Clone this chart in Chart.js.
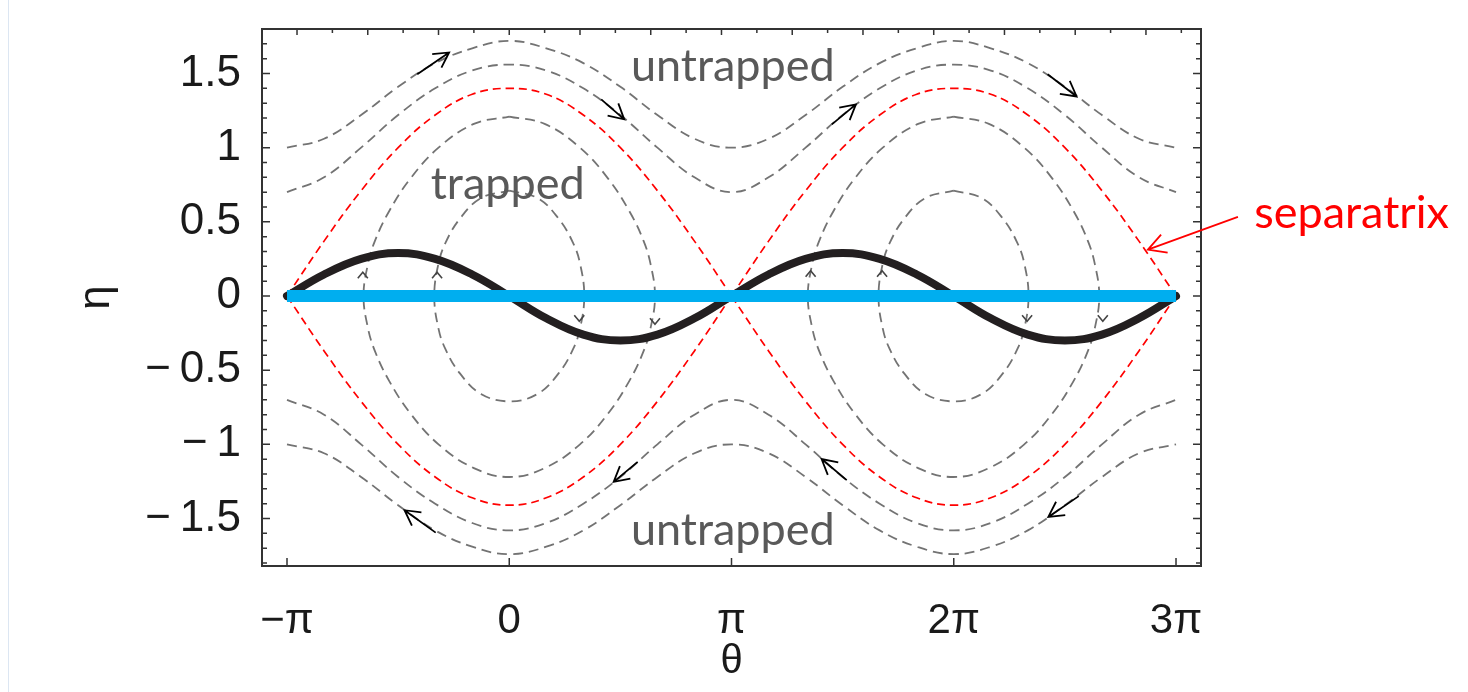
<!DOCTYPE html>
<html>
<head>
<meta charset="utf-8">
<script src="https://cdn.jsdelivr.net/npm/chart.js@4/dist/chart.umd.min.js"></script>
<style>
  html, body { margin: 0; padding: 0; background: #ffffff; }
  #wrap { position: relative; width: 1468px; height: 692px; }
  #edge { position: absolute; left: 8px; top: 0; width: 1px; height: 692px; background: #dce6f2; }
</style>
</head>
<body>
<div id="wrap">
  <div id="edge"></div>
  <canvas id="phase-chart" width="1468" height="692"></canvas>
</div>
<script>
// theta grid (multiples of pi/6 from -pi to 3pi)
const thetaGrid = [-6,-5,-4,-3,-2,-1,0,1,2,3,4,5,6,7,8,9,10,11,12,13,14,15,16,17,18].map(k => k * Math.PI / 6);

// untrapped orbits
const untrappedTopOuter = [1.00,1.06,1.22,1.41,1.57,1.67,1.72,1.67,1.57,1.41,1.22,1.06,1.00,1.06,1.22,1.41,1.57,1.67,1.72,1.67,1.57,1.41,1.22,1.06,1.00];
const untrappedTopInner = [0.70,0.80,1.00,1.22,1.40,1.52,1.56,1.52,1.40,1.22,1.00,0.80,0.70,0.80,1.00,1.22,1.40,1.52,1.56,1.52,1.40,1.22,1.00,0.80,0.70];
const untrappedBotInner = [-0.70,-0.80,-1.00,-1.22,-1.40,-1.53,-1.58,-1.53,-1.40,-1.22,-1.00,-0.80,-0.70,-0.80,-1.00,-1.22,-1.40,-1.53,-1.58,-1.53,-1.40,-1.22,-1.00,-0.80,-0.70];
const untrappedBotOuter = [-1.00,-1.06,-1.22,-1.41,-1.58,-1.69,-1.74,-1.69,-1.58,-1.41,-1.22,-1.06,-1.00,-1.06,-1.22,-1.41,-1.58,-1.69,-1.74,-1.69,-1.58,-1.41,-1.22,-1.06,-1.00];

// separatrix
const separatrixTop = [0,0.37,0.71,1.00,1.22,1.36,1.40,1.36,1.22,1.00,0.71,0.37,0,0.37,0.71,1.00,1.22,1.36,1.40,1.36,1.22,1.00,0.71,0.37,0];
const separatrixBot = [0,-0.37,-0.71,-1.00,-1.22,-1.36,-1.41,-1.36,-1.22,-1.00,-0.71,-0.37,0,-0.37,-0.71,-1.00,-1.22,-1.36,-1.41,-1.36,-1.22,-1.00,-0.71,-0.37,0];

// thick black wave
const blackWave = [0,0.145,0.25,0.29,0.25,0.145,0,-0.15,-0.26,-0.30,-0.26,-0.15,0,0.145,0.25,0.29,0.25,0.145,0,-0.15,-0.26,-0.30,-0.26,-0.15,0];

// blue line
const blueTheta = [-Math.PI, 3 * Math.PI];
const blueEta = [0, 0];

// trapped orbits (closed loops, start at top)
const trappedOuterThetaA = [0,0.5,1.0,1.4,1.7,1.9,2.0,2.06,2.0,1.9,1.7,1.4,1.0,0.5,0,-0.5,-1.0,-1.4,-1.7,-1.9,-2.0,-2.06,-2.0,-1.9,-1.7,-1.4,-1.0,-0.5,0];
const trappedOuterThetaB = [6.28,6.78,7.28,7.68,7.98,8.18,8.28,8.34,8.28,8.18,7.98,7.68,7.28,6.78,6.28,5.78,5.28,4.88,4.58,4.38,4.28,4.22,4.28,4.38,4.58,4.88,5.28,5.78,6.28];
const trappedOuterEta = [1.21,1.16,1.00,0.79,0.57,0.37,0.21,0,-0.21,-0.37,-0.57,-0.79,-1.00,-1.16,-1.22,-1.16,-1.00,-0.79,-0.57,-0.37,-0.21,0,0.21,0.37,0.57,0.79,1.00,1.16,1.21];
const trappedInnerThetaA = [0,0.4,0.7,0.9,1.0,1.06,1.0,0.9,0.7,0.4,0,-0.4,-0.7,-0.9,-1.0,-1.06,-1.0,-0.9,-0.7,-0.4,0];
const trappedInnerThetaB = [6.28,6.68,6.98,7.18,7.28,7.34,7.28,7.18,6.98,6.68,6.28,5.88,5.58,5.38,5.28,5.22,5.28,5.38,5.58,5.88,6.28];
const trappedInnerEta = [0.71,0.66,0.52,0.36,0.22,0,-0.22,-0.36,-0.52,-0.66,-0.71,-0.66,-0.52,-0.36,-0.22,0,0.22,0.36,0.52,0.66,0.71];

// axis ticks
const xTickValues = [-Math.PI, 0, Math.PI, 2 * Math.PI, 3 * Math.PI];
const xTickLabels = ['\u2212\u03c0', '0', '\u03c0', '2\u03c0', '3\u03c0'];
const yTickValues = [-1.5, -1, -0.5, 0, 0.5, 1, 1.5];
const yTickLabels = ['\u2212\u20091.5', '\u2212\u20091', '\u2212\u20090.5', '0', '0.5', '1', '1.5'];

// flow arrows [tailTheta, tailEta, headTheta, headEta]
const flowArrows = [
    [-1.30, 1.495, -0.85, 1.642],
    [1.30, 1.326, 1.625, 1.191],
    [4.56, 1.157, 4.90, 1.292],
    [7.61, 1.495, 8.02, 1.345],
    [-1.04, -1.595, -1.48, -1.444],
    [1.815, -1.118, 1.476, -1.253],
    [4.77, -1.241, 4.415, -1.099],
    [8.05, -1.349, 7.62, -1.489]
];
// small chevrons on trapped orbits [theta, eta, direction]
const trappedMarks = [
    [-2.07, 0.16, 1], [-1.02, 0.16, 1], [4.26, 0.17, 1], [5.27, 0.17, 1],
    [0.99, -0.17, -1], [2.06, -0.19, -1], [7.32, -0.17, -1], [8.39, -0.17, -1]
];
// text labels [text, theta, eta, colour]
const notes = [
    ['untrapped', 1.72, 1.448, '#595959'],
    ['trapped', -1.11, 0.651, '#595959'],
    ['untrapped', 1.72, -1.68, '#595959'],
    ['separatrix', 10.53, 0.461, '#ff0000']
];
const separatrixPointer = [10.30, 0.534, 9.027, 0.313];

function pts(xs, ys) {
    return xs.map((x, i) => ({ x: x, y: ys[i] }));
}

const grayDash = { borderColor: 'rgba(90,90,90,0.85)', borderWidth: 1.8, borderDash: [10, 6], tension: 0.4, order: 5 };
const redSep = { borderColor: '#ff0000', borderWidth: 1.7, borderDash: [8, 5], tension: 0.4, order: 3 };

function line(data, style) {
    return Object.assign({ data: data, showLine: true, pointRadius: 0, fill: false }, style);
}

const datasets = [
    line(pts(blueTheta, blueEta), { borderColor: '#00aeef', borderWidth: 12, order: 1, borderCapStyle: 'butt' }),
    line(pts(thetaGrid, blackWave), { borderColor: '#231f20', borderWidth: 8, tension: 0.4, order: 2, borderCapStyle: 'round' }),
    line(pts(thetaGrid.slice(0, 13), separatrixTop.slice(0, 13)), redSep),
    line(pts(thetaGrid.slice(12), separatrixTop.slice(12)), redSep),
    line(pts(thetaGrid.slice(0, 13), separatrixBot.slice(0, 13)), redSep),
    line(pts(thetaGrid.slice(12), separatrixBot.slice(12)), redSep),
    line(pts(thetaGrid, untrappedTopOuter), grayDash),
    line(pts(thetaGrid, untrappedTopInner), grayDash),
    line(pts(thetaGrid, untrappedBotInner), grayDash),
    line(pts(thetaGrid, untrappedBotOuter), grayDash),
    line(pts(trappedOuterThetaA, trappedOuterEta), grayDash),
    line(pts(trappedOuterThetaB, trappedOuterEta), grayDash),
    line(pts(trappedInnerThetaA, trappedInnerEta), grayDash),
    line(pts(trappedInnerThetaB, trappedInnerEta), grayDash)
];

function drawArrow(ctx, x1, y1, x2, y2, head, color, width) {
    const a = Math.atan2(y2 - y1, x2 - x1);
    ctx.save();
    ctx.strokeStyle = color;
    ctx.lineWidth = width;
    ctx.setLineDash([]);
    ctx.beginPath();
    ctx.moveTo(x1, y1);
    ctx.lineTo(x2, y2);
    ctx.moveTo(x2 - head * Math.cos(a - 0.5), y2 - head * Math.sin(a - 0.5));
    ctx.lineTo(x2, y2);
    ctx.lineTo(x2 - head * Math.cos(a + 0.5), y2 - head * Math.sin(a + 0.5));
    ctx.stroke();
    ctx.restore();
}

// frame, inner ticks, arrows and notes
const decor = {
    id: 'phaseDecor',
    afterDatasetsDraw(chart) {
        const { ctx, chartArea: a, scales: { x, y } } = chart;
        ctx.save();
        ctx.strokeStyle = '#333333';
        ctx.lineWidth = 1.5;
        ctx.setLineDash([]);
        ctx.beginPath();
        // left / right ticks every 0.1
        for (let i = -18; i <= 18; i++) {
            const py = y.getPixelForValue(i / 10);
            const len = i % 5 === 0 ? 8 : 5;
            ctx.moveTo(a.left, py); ctx.lineTo(a.left + len, py);
            ctx.moveTo(a.right, py); ctx.lineTo(a.right - len, py);
        }
        // top ticks every 0.5 rad
        for (let i = -7; i <= 19; i++) {
            const px = x.getPixelForValue(i / 2);
            if (px < a.left || px > a.right) continue;
            const len = i % 2 === 0 ? 6 : 4;
            ctx.moveTo(px, a.top); ctx.lineTo(px, a.top + len);
        }
        // bottom ticks at multiples of pi
        xTickValues.forEach(v => {
            const px = x.getPixelForValue(v);
            ctx.moveTo(px, a.bottom); ctx.lineTo(px, a.bottom - 8);
        });
        ctx.stroke();
        ctx.lineWidth = 2;
        ctx.strokeRect(a.left, a.top, a.right - a.left, a.bottom - a.top);

        flowArrows.forEach(f => {
            drawArrow(ctx, x.getPixelForValue(f[0]), y.getPixelForValue(f[1]),
                x.getPixelForValue(f[2]), y.getPixelForValue(f[3]), 17, '#000000', 1.8);
        });

        // chevrons on trapped orbits
        ctx.strokeStyle = '#444444';
        ctx.lineWidth = 1.6;
        trappedMarks.forEach(m => {
            const px = x.getPixelForValue(m[0]);
            const py = y.getPixelForValue(m[1]);
            const d = m[2];
            ctx.beginPath();
            ctx.moveTo(px - 5, py + 6 * d);
            ctx.lineTo(px, py);
            ctx.lineTo(px + 5, py + 6 * d);
            ctx.stroke();
        });

        const p = separatrixPointer;
        drawArrow(ctx, x.getPixelForValue(p[0]), y.getPixelForValue(p[1]),
            x.getPixelForValue(p[2]), y.getPixelForValue(p[3]), 20, '#ff0000', 1.8);

        ctx.font = '45px Lato';
        ctx.textAlign = 'left';
        ctx.textBaseline = 'alphabetic';
        notes.forEach(n => {
            ctx.fillStyle = n[3];
            ctx.fillText(n[0], x.getPixelForValue(n[1]), y.getPixelForValue(n[2]));
        });
        ctx.restore();
    }
};

new Chart(document.getElementById('phase-chart'), {
    type: 'scatter',
    data: { datasets: datasets },
    options: {
        responsive: false,
        animation: false,
        layout: { padding: { top: 29, right: 267, left: 0, bottom: 0 } },
        plugins: { legend: { display: false }, tooltip: { enabled: false } },
        scales: {
            x: {
                type: 'linear',
                min: -3.495,
                max: 9.778,
                grid: { display: false, drawTicks: false },
                border: { display: false },
                afterBuildTicks: s => { s.ticks = xTickValues.map(v => ({ value: v })); },
                afterFit: s => { s.height = 126; s.paddingLeft = 0; s.paddingRight = 0; },
                ticks: {
                    padding: 30,
                    color: '#1a1a1a',
                    font: { family: 'Liberation Sans', size: 42 },
                    maxRotation: 0,
                    callback: (v, i) => xTickLabels[i]
                },
                title: { display: true, text: '\u03b8', color: '#1a1a1a', font: { family: 'Liberation Sans', size: 40 }, padding: { bottom: 6, top: 0 } }
            },
            y: {
                type: 'linear',
                min: -1.82,
                max: 1.80,
                grid: { display: false, drawTicks: false },
                border: { display: false },
                afterBuildTicks: s => { s.ticks = yTickValues.map(v => ({ value: v })); },
                afterFit: s => { s.width = 262; s.paddingTop = 0; s.paddingBottom = 0; },
                ticks: {
                    padding: 21,
                    color: '#1a1a1a',
                    font: { family: 'Liberation Sans', size: 44 },
                    callback: (v, i) => yTickLabels[i]
                },
                title: { display: true, text: '\u03b7', color: '#1a1a1a', font: { family: 'Liberation Sans', size: 44 }, padding: { top: 70, bottom: 0 } }
            }
        }
    },
    plugins: [decor]
});
</script>
</body>
</html>
